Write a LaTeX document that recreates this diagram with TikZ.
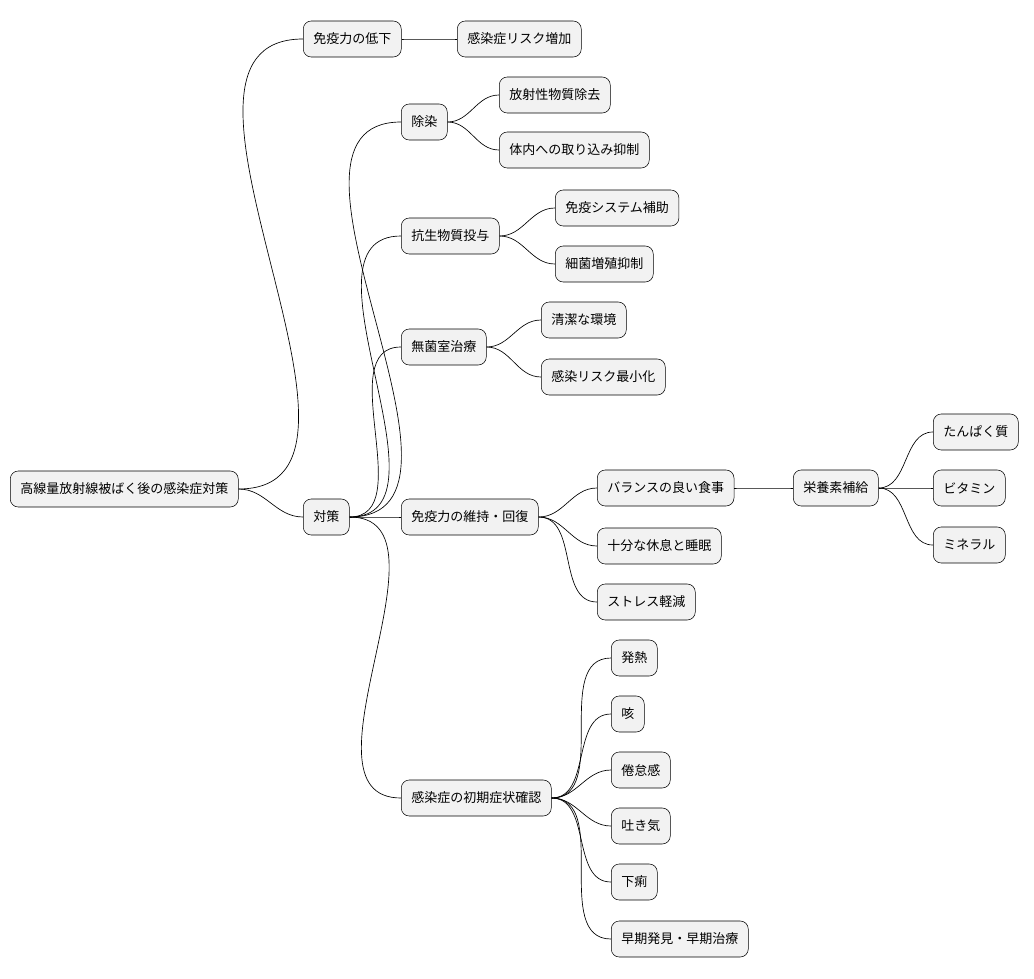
\documentclass[tikz,border=0pt]{standalone}
\usepackage{fontspec}
\setmainfont{Noto Sans CJK JP}
\begin{document}
\begin{tikzpicture}[x=0.75pt,y=-0.75pt,
  box/.style={draw=black,fill=gray!10,rounded corners=6pt,anchor=west,
    minimum height=27pt,inner xsep=7.5pt,font=\fontsize{9.75}{11}\selectfont},
  link/.style={draw=black,line width=0.5pt}]
\useasboundingbox (0,0) rectangle (1034,978);

\node[box] (root) at (10,489) {高線量放射線被ばく後の感染症対策};
\node[box] (teika) at (303,39) {免疫力の低下};
\node[box] (risk) at (457,39) {感染症リスク増加};
\node[box] (taisaku) at (303,517) {対策};

\node[box] (josen) at (401,122) {除染};
\node[box] (jokyo) at (499,95) {放射性物質除去};
\node[box] (yokusei) at (499,150) {体内への取り込み抑制};

\node[box] (kosei) at (401,236) {抗生物質投与};
\node[box] (hojo) at (555,208) {免疫システム補助};
\node[box] (saikin) at (555,264) {細菌増殖抑制};

\node[box] (mukin) at (401,347) {無菌室治療};
\node[box] (seiketsu) at (541,320) {清潔な環境};
\node[box] (saisho) at (541,377) {感染リスク最小化};

\node[box] (iji) at (401,517) {免疫力の維持・回復};
\node[box] (shokuji) at (597,488) {バランスの良い食事};
\node[box] (eiyo) at (793,488) {栄養素補給};
\node[box] (tanpaku) at (933,432) {たんぱく質};
\node[box] (vitamin) at (933,488) {ビタミン};
\node[box] (mineral) at (933,545) {ミネラル};
\node[box] (kyusoku) at (597,546) {十分な休息と睡眠};
\node[box] (stress) at (597,602) {ストレス軽減};

\node[box] (shoki) at (401,798) {感染症の初期症状確認};
\node[box] (hatsunetsu) at (611,658) {発熱};
\node[box] (seki) at (611,714) {咳};
\node[box] (kentai) at (611,770) {倦怠感};
\node[box] (hakike) at (611,826) {吐き気};
\node[box] (geri) at (611,882) {下痢};
\node[box] (soki) at (611,939) {早期発見・早期治療};

% connectors
\foreach \a/\b in {root/teika,root/taisaku,teika/risk,
  taisaku/josen,taisaku/kosei,taisaku/mukin,taisaku/iji,taisaku/shoki,
  josen/jokyo,josen/yokusei,kosei/hojo,kosei/saikin,
  mukin/seiketsu,mukin/saisho,
  iji/shokuji,iji/kyusoku,iji/stress,shokuji/eiyo,
  eiyo/tanpaku,eiyo/vitamin,eiyo/mineral,
  shoki/hatsunetsu,shoki/seki,shoki/kentai,shoki/hakike,shoki/geri,shoki/soki}
\draw[link] (\a.east) to[out=0,in=180] (\b.west);
\end{tikzpicture}
\end{document}
